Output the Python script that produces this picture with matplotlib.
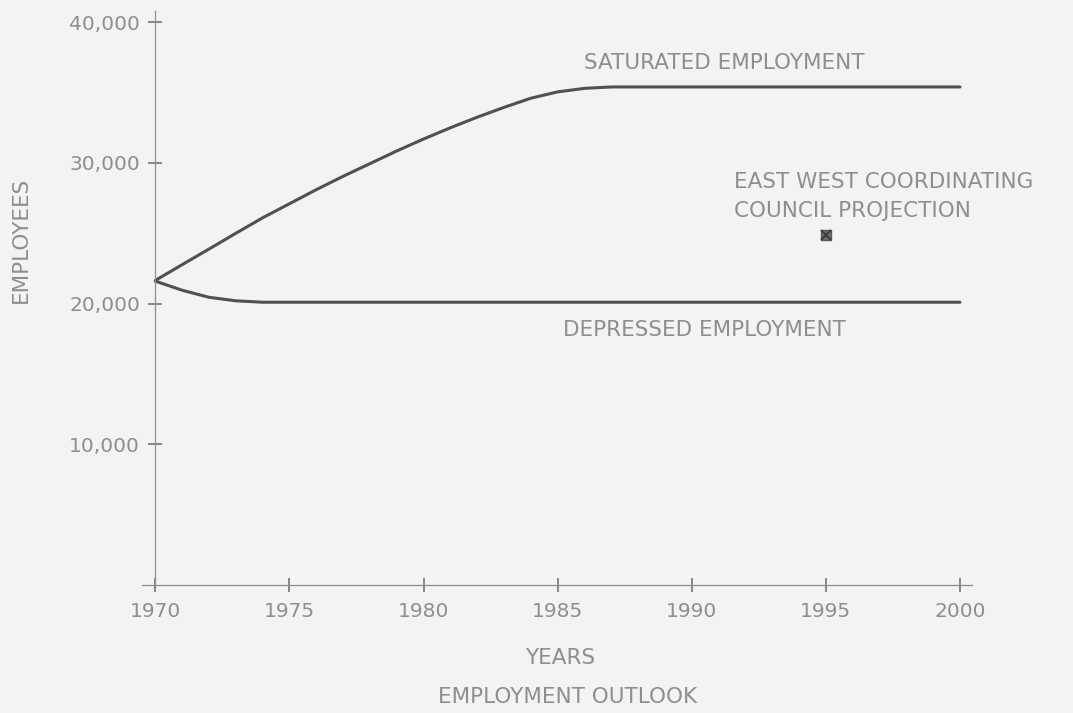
import matplotlib
matplotlib.use("Agg")
import matplotlib.pyplot as plt
from matplotlib.ticker import FuncFormatter

# Employment outlook, 1970-2000
years = [1970, 1971, 1972, 1973, 1974, 1975, 1976, 1977, 1978, 1979, 1980,
         1981, 1982, 1983, 1984, 1985, 1986, 1987, 1988, 1989, 1990,
         1991, 1992, 1993, 1994, 1995, 1996, 1997, 1998, 1999, 2000]

saturated = [21650, 22770, 23880, 25000, 26100, 27100, 28100, 29050, 29950, 30850,
             31700, 32500, 33250, 33950, 34600, 35050, 35300, 35400, 35400, 35400,
             35400, 35400, 35400, 35400, 35400, 35400, 35400, 35400, 35400, 35400,
             35400]

depressed = [21600, 20950, 20450, 20200, 20100, 20100, 20100, 20100, 20100, 20100,
             20100, 20100, 20100, 20100, 20100, 20100, 20100, 20100, 20100, 20100,
             20100, 20100, 20100, 20100, 20100, 20100, 20100, 20100, 20100, 20100,
             20100]

ewcc_year = [1995]
ewcc_value = [24900]

x_ticks = [1970, 1975, 1980, 1985, 1990, 1995, 2000]
y_ticks = [10000, 20000, 30000, 40000]

BG = "#f3f3f3"
LINE = "#505050"
AXIS = "#8f8f8f"
TEXT = "#8e8e8e"
FS_TICK = 14.5
FS = 15.5

plt.rcParams["font.family"] = ["DejaVu Sans"]

fig = plt.figure(figsize=(10.73, 7.13), dpi=100, facecolor=BG)
ax = fig.add_axes([0.1323, 0.1795, 0.7736, 0.8051])
ax.set_facecolor(BG)

ax.plot(years, saturated, color=LINE, lw=2.2, solid_capstyle="round",
        solid_joinstyle="round")
ax.plot(years, depressed, color=LINE, lw=2.2, solid_capstyle="round",
        solid_joinstyle="round")
ax.plot(ewcc_year, ewcc_value, marker="s", ms=6.5, color="#707070",
        mec="#5a5a5a", ls="none")
ax.plot(ewcc_year, ewcc_value, marker="x", ms=6.5, mew=1.5, color="#3f3f3f",
        ls="none")

ax.set_xlim(1969.5, 2000.45)
ax.set_ylim(0, 40800)

for side in ("top", "right"):
    ax.spines[side].set_visible(False)
ax.spines["left"].set_position(("data", 1970))
for side in ("left", "bottom"):
    ax.spines[side].set_color(AXIS)
    ax.spines[side].set_linewidth(0.9)

ax.set_xticks(x_ticks)
ax.set_yticks(y_ticks)
ax.yaxis.set_major_formatter(FuncFormatter(lambda v, p: f"{int(v):,}"))
ax.tick_params(axis="both", direction="inout", length=10, width=1.2,
               color="#747474", labelcolor=TEXT, labelsize=FS_TICK)
ax.tick_params(axis="x", pad=7)
ax.tick_params(axis="y", pad=6)

ax.text(1986.0, 37100, "SATURATED EMPLOYMENT", color=TEXT, fontsize=FS,
        va="center", ha="left")
ax.text(1991.56, 27620, "EAST WEST COORDINATING\nCOUNCIL PROJECTION",
        color=TEXT, fontsize=FS, va="center", ha="left", linespacing=1.6)
ax.text(1985.2, 18120, "DEPRESSED EMPLOYMENT", color=TEXT, fontsize=FS,
        va="center", ha="left")

fig.text(560 / 1073, 1 - 658 / 713, "YEARS", color=TEXT, fontsize=FS,
         ha="center", va="center")
fig.text(568 / 1073, 1 - 697 / 713, "EMPLOYMENT OUTLOOK", color=TEXT,
         fontsize=FS, ha="center", va="center")
fig.text(21 / 1073, 1 - 240 / 713, "EMPLOYEES", color=TEXT, fontsize=FS,
         ha="center", va="center", rotation=90)

fig.savefig("out.png", dpi=100, facecolor=BG)
